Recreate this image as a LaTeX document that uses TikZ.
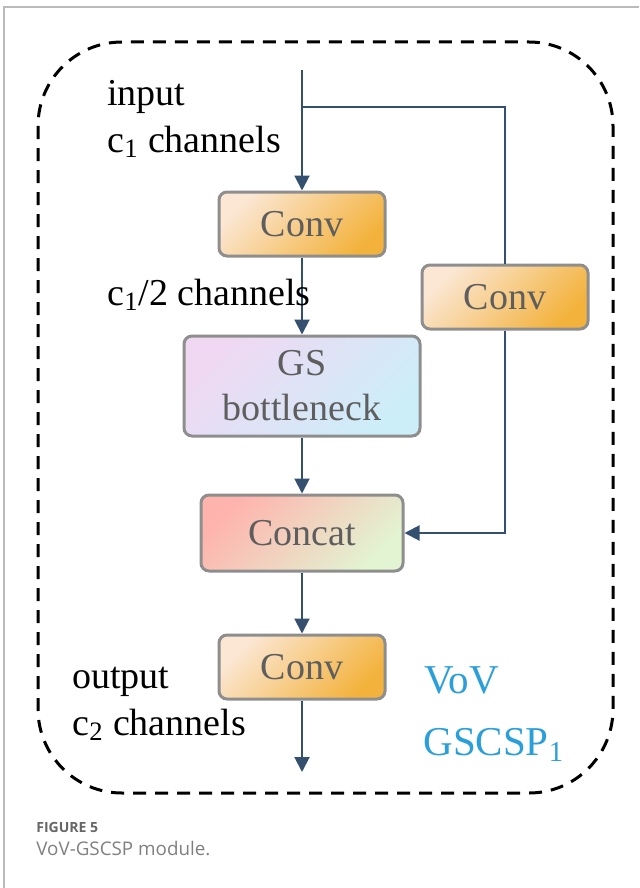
\documentclass[tikz,border=0pt]{standalone}
\usepackage{fontspec}
\setmainfont{Liberation Serif}
\newfontfamily\capfont{Open Sans}
\usetikzlibrary{arrows.meta}

\definecolor{linkblue}{HTML}{34506E}
\definecolor{boxgray}{HTML}{8E8E8E}
\definecolor{boxtext}{HTML}{5E5E5E}
\definecolor{convA}{HTML}{FBE7D4}
\definecolor{convB}{HTML}{F3B23C}
\definecolor{gsA}{HTML}{F0D8F2}
\definecolor{gsB}{HTML}{CCEEF9}
\definecolor{catA}{HTML}{FFB3AD}
\definecolor{catM}{HTML}{F3D9C4}
\definecolor{catB}{HTML}{E2F4D2}
\definecolor{vovblue}{HTML}{2B9FD9}

\begin{document}
\begin{tikzpicture}
  [x=0.5pt, y=-0.5pt,
    every node/.style={inner sep=0pt},
    block/.style={draw=boxgray, line width=1.5pt, rounded corners=4pt,
      minimum width=83pt, minimum height=32pt, text=boxtext,
      font=\fontsize{19}{22.5}\selectfont, align=center},
    conv/.style={block, top color=convA, bottom color=convB, shading angle=45},
    gsbox/.style={block, top color=gsA, bottom color=gsB, shading angle=45},
    catbox/.style={block, top color=catA, middle color=catM, bottom color=catB, shading angle=45},
    note/.style={anchor=base west, font=\fontsize{19}{22}\selectfont},
    tag/.style={anchor=base west, text=vovblue, font=\fontsize{20.5}{24}\selectfont},
    link/.style={draw=linkblue, line width=1pt},
    arr/.style={link, -{Triangle[length=7.5pt,width=7.5pt]}},
  ]
\useasboundingbox (0,0) rectangle (639,888);

\draw[boxgray!60, line width=0.75pt] (4,888) |- (639,7);
\draw[line width=1.5pt, dash pattern=on 6.5pt off 4.5pt, rounded corners=42pt]
  (38,42) rectangle (613,793);

\node[conv] (conv1) at (302,224) {Conv};
\node[conv] (convr) at (505,297) {Conv};
\node[gsbox, minimum width=118pt, minimum height=50pt] (gs) at (302,386) {GS\\bottleneck};
\node[catbox, minimum width=101pt, minimum height=38pt] (concat) at (302,533) {Concat};
\node[conv] (conv3) at (302,667) {Conv};

\coordinate (in) at (302,70);
\coordinate (split) at (302,107);
\coordinate (out) at (302,772);

\draw[arr] (in) -- (conv1);
\draw[link] (split) -| (convr);
\draw[arr] (conv1) -- (gs);
\draw[arr] (gs) -- (concat);
\draw[arr] (convr) |- (concat);
\draw[arr] (concat) -- (conv3);
\draw[arr] (conv3) -- (out);

\node[note] (intxt) at (107,105) {input};
\node[note] (inch) at (107,152) {c\textsubscript{1} channels};
\node[note] (halfch) at (107,305) {c\textsubscript{1}/2 channels};
\node[note] (outtxt) at (72,688) {output};
\node[note] (outch) at (72,735) {c\textsubscript{2} channels};

\node[tag] (vov) at (424,693) {VoV};
\node[tag] (gscsp) at (423,755) {GSCSP\textsubscript{1}};

\node[anchor=base west, text=black!60, font=\capfont\bfseries\fontsize{7}{8}\selectfont] (fig) at (36,832) {FIGURE 5};
\node[anchor=base west, text=black!50, font=\capfont\fontsize{9.4}{11}\selectfont] (cap) at (36,855) {VoV-GSCSP module.};
\end{tikzpicture}
\end{document}
